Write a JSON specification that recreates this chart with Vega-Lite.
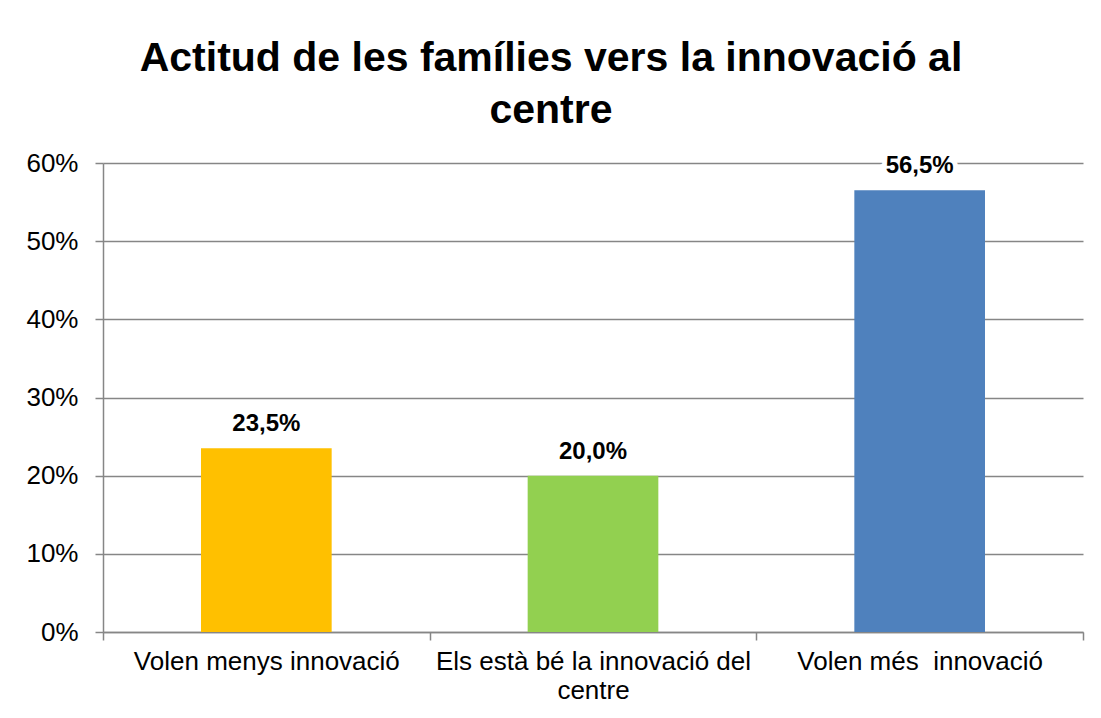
{
  "$schema": "https://vega.github.io/schema/vega-lite/v6.json",
  "autosize": "none",
  "width": 980,
  "height": 469,
  "padding": {"left": 103, "top": 163, "right": 18, "bottom": 86},
  "background": "white",
  "config": {
    "font": "Liberation Sans",
    "view": {"stroke": null},
    "locale": {"number": {"decimal": ",", "thousands": ".", "grouping": [3], "currency": ["", " €"]}}
  },
  "title": {
    "text": ["Actitud de les famílies vers la innovació al", "centre"],
    "fontSize": 41,
    "fontWeight": "bold",
    "font": "Liberation Sans",
    "color": "black",
    "lineHeight": 52,
    "anchor": "middle",
    "frame": "group",
    "dx": -42,
    "offset": 18
  },
  "data": {
    "values": [
      {"category": "Volen menys innovació", "value": 0.235},
      {"category": "Els està bé la innovació del centre", "value": 0.2},
      {"category": "Volen més  innovació", "value": 0.565}
    ]
  },
  "encoding": {
    "x": {
      "field": "category",
      "type": "nominal",
      "sort": null,
      "scale": {"paddingInner": 0, "paddingOuter": 0},
      "axis": {
        "title": null,
        "labelAngle": 0,
        "labelFontSize": 26,
        "labelColor": "black",
        "labelFont": "Liberation Sans",
        "labelLineHeight": 29,
        "labelPadding": 8,
        "labelLimit": 400,
        "labelExpr": "datum.label == 'Els està bé la innovació del centre' ? ['Els està bé la innovació del', 'centre'] : datum.label == 'Volen més  innovació' ? 'Volen més \u00a0innovació' : datum.label",
        "tickBand": "extent",
        "tickSize": 8,
        "tickColor": "#868686",
        "tickWidth": 1.5,
        "domainColor": "#868686",
        "domainWidth": 1.5,
        "grid": false
      }
    },
    "y": {
      "field": "value",
      "type": "quantitative",
      "scale": {"domain": [0, 0.6], "nice": false},
      "axis": {
        "title": null,
        "values": [0, 0.1, 0.2, 0.3, 0.4, 0.5, 0.6],
        "format": ".0%",
        "labelFontSize": 26,
        "labelColor": "black",
        "labelFont": "Liberation Sans",
        "labelPadding": 17,
        "tickSize": 8,
        "tickColor": "#868686",
        "tickWidth": 1.5,
        "domainColor": "#868686",
        "domainWidth": 1.5,
        "grid": true,
        "gridColor": "#868686",
        "gridWidth": 1.5
      }
    }
  },
  "layer": [
    {
      "mark": {"type": "bar", "width": {"band": 0.4}},
      "encoding": {
        "color": {
          "field": "category",
          "type": "nominal",
          "sort": null,
          "scale": {"range": ["#FFC000", "#92D050", "#4F81BD"]},
          "legend": null
        }
      }
    },
    {
      "mark": {"type": "text", "baseline": "alphabetic", "dy": -17, "fontSize": 24, "fontWeight": "bold", "font": "Liberation Sans", "stroke": "white", "strokeWidth": 10, "color": "white"},
      "encoding": {"text": {"field": "value", "type": "quantitative", "format": ".1%"}}
    },
    {
      "mark": {"type": "text", "baseline": "alphabetic", "dy": -17, "fontSize": 24, "fontWeight": "bold", "font": "Liberation Sans", "color": "black"},
      "encoding": {"text": {"field": "value", "type": "quantitative", "format": ".1%"}}
    }
  ]
}
